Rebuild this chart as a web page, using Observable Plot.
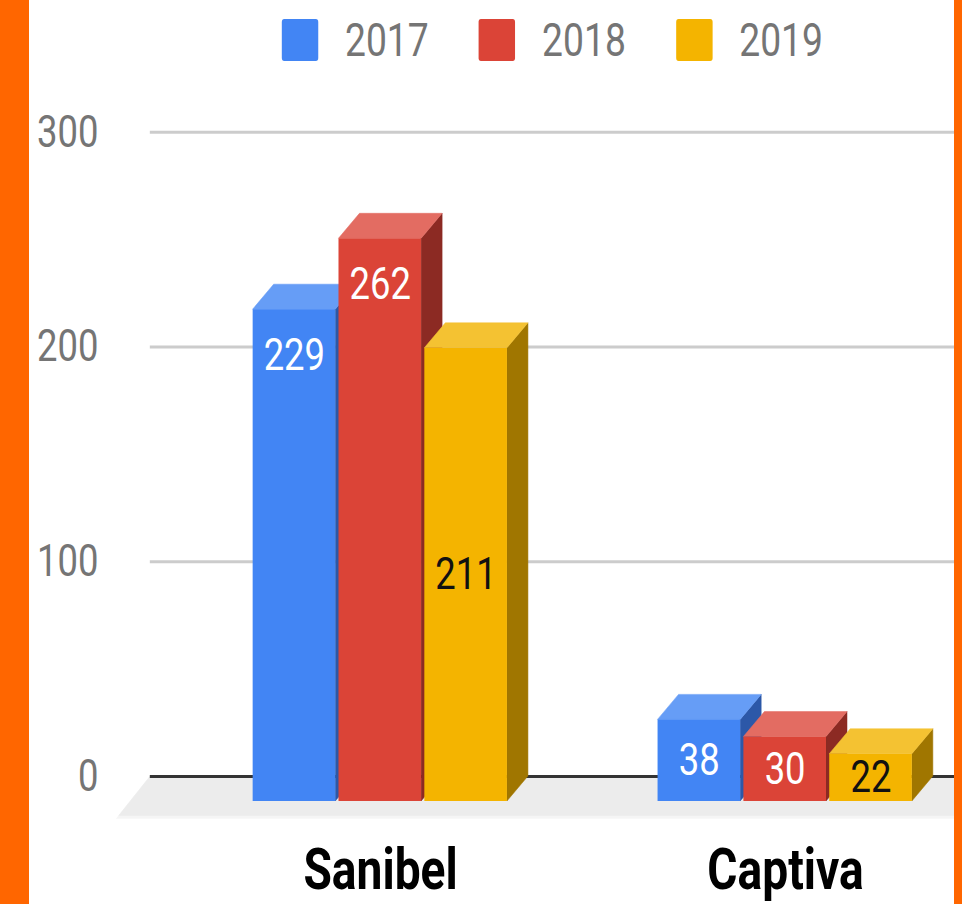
<!DOCTYPE html>
<html>
<head>
<meta charset="utf-8">
<script src="https://cdn.jsdelivr.net/npm/d3@7"></script>
<script src="https://cdn.jsdelivr.net/npm/@observablehq/plot@0.6"></script>
<style>
  html, body { margin: 0; padding: 0; background: #ffffff; width: 962px; height: 904px; overflow: hidden; }
  #wrap { position: absolute; left: 0; top: 0; width: 1188px; height: 904px; transform: scaleX(0.8098); transform-origin: 0 0; font-family: Roboto, sans-serif; }
  #legend { position: absolute; left: 348px; top: 19px; display: flex; align-items: center; height: 42px; }
  .item { display: flex; align-items: center; margin-right: 62px; }
  .sw { width: 45px; height: 42px; border-radius: 3px; }
  .lab { margin-left: 33px; font-size: 46px; line-height: 42px; color: #757575; }
  #chart { position: absolute; left: 0; top: 90px; width: 1188px; height: 814px; }
  #chart svg { position: absolute; left: 0; top: 0; }
  .border { position: absolute; top: 0; height: 904px; background: #ff6600; }
</style>
</head>
<body>
<div id="wrap">
  <div id="legend"></div>
  <div id="chart"></div>
</div>
<div class="border" style="left:0;width:29px"></div>
<div class="border" style="left:954px;width:8px"></div>
<script>
// ---- data ----
const islands = ["Sanibel", "Captiva"];
const years = ["2017", "2018", "2019"];
const sanibelValues = [229, 262, 211];
const captivaValues = [38, 30, 22];
const yTicks = [0, 100, 200, 300];

// ---- styling ----
const frontColors = ["#4285f4", "#db4437", "#f4b400"];
const topColors = ["#669df6", "#e36c62", "#f4c232"];
const sideColors = ["#2c58a8", "#8c2a23", "#a07600"];
const labelColors = ["#ffffff", "#ffffff", "#111111"];

const K = 962 / 1188;      // horizontal condensing of the whole picture
const DX = 21 / K;          // 3D depth, horizontal (internal units)
const DY = 25;              // 3D depth, vertical
const FLOOR = 39, FLOOR_SLANT = 31 / K;

const table = [];
islands.forEach((island, i) => {
  const vals = i === 0 ? sanibelValues : captivaValues;
  years.forEach((year, j) => table.push({island, year, value: vals[j], yi: j}));
});

// legend
const legend = document.getElementById("legend");
years.forEach((y, j) => {
  const item = document.createElement("div");
  item.className = "item";
  const sw = document.createElement("div");
  sw.className = "sw";
  sw.style.background = frontColors[j];
  const lab = document.createElement("div");
  lab.className = "lab";
  lab.textContent = y;
  item.append(sw, lab);
  legend.append(item);
});

const NS = "http://www.w3.org/2000/svg";
function poly(points, fill) {
  const p = document.createElementNS(NS, "path");
  p.setAttribute("d", "M" + points.map(q => q.join(",")).join("L") + "Z");
  p.setAttribute("fill", fill);
  p.setAttribute("stroke", fill);
  p.setAttribute("stroke-width", "0.6");
  return p;
}

function floorRender(index, scales, values, dimensions, context, next) {
  const g = next(index, scales, values, dimensions, context);
  const line = g.querySelector("line");
  if (!line) return g;
  const x1 = +line.getAttribute("x1"), x2 = +line.getAttribute("x2") + 60, y = +line.getAttribute("y1");
  const light = poly([[x1, y], [x2, y], [x2, y + FLOOR + 3], [x1 - FLOOR_SLANT - 3, y + FLOOR + 3]], "#f5f5f5");
  const dark = poly([[x1, y], [x2, y], [x2, y + FLOOR], [x1 - FLOOR_SLANT, y + FLOOR]], "#ececec");
  line.replaceWith(light);
  g.append(dark);
  return g;
}

function bar3d(index, scales, values, dimensions, context, next) {
  const g = next(index, scales, values, dimensions, context);
  Array.from(g.querySelectorAll("rect")).forEach(r => {
    const x = +r.getAttribute("x"), y = +r.getAttribute("y");
    const w = +r.getAttribute("width"), h = +r.getAttribute("height");
    const j = Math.max(0, frontColors.indexOf(r.getAttribute("fill")));
    const gg = document.createElementNS(NS, "g");
    const side = poly([[x + w, y], [x + w + DX, y - DY], [x + w + DX, y + h - DY], [x + w, y + h]], sideColors[j]);
    const top = poly([[x, y], [x + DX, y - DY], [x + w + DX, y - DY], [x + w, y]], topColors[j]);
    r.replaceWith(gg);
    gg.append(side, top, r);
  });
  return g;
}

const common = {
  width: 1188,
  height: 814,
  marginLeft: 185,
  marginRight: 0,
  marginTop: 41.7,
  marginBottom: 128,
  style: {fontFamily: "Roboto, sans-serif", background: "transparent", overflow: "visible"},
  y: {domain: [0, 300], axis: null}
};

// background layer: floor, grid, baseline, y tick labels
const back = Plot.plot({
  ...common,
  marks: [
    Plot.ruleY([0], {stroke: "#ececec", strokeWidth: 1, render: floorRender}),
    Plot.ruleY(yTicks.filter(d => d > 0), {stroke: "#cccccc", strokeWidth: 3}),
    Plot.ruleY([0], {stroke: "#333333", strokeWidth: 3}),
    Plot.text(yTicks, {y: d => d, text: d => String(d), frameAnchor: "left", textAnchor: "end", dx: -64, fontSize: 45, fill: "#757575"})
  ]
});

// foreground layer: grouped 3D bars, value labels, category labels
const front = Plot.plot({
  ...common,
  fx: {domain: islands, paddingInner: 0.3655, paddingOuter: 0.1854, align: 0.68, axis: null, label: null},
  x: {domain: years, paddingInner: 0.035, paddingOuter: 0, axis: null},
  color: {type: "identity"},
  marks: [
    Plot.barY(table, {fx: "island", x: "year", y: "value", fill: d => frontColors[d.yi], dy: DY, render: bar3d}),
    Plot.text(table.filter(d => d.value > 220), {fx: "island", x: "year", y: "value", text: d => String(d.value), dy: DY + 46, fontSize: 45, fill: d => labelColors[d.yi]}),
    Plot.text(table.filter(d => d.value <= 220), {fx: "island", x: "year", y: d => d.value / 2, text: d => String(d.value), dy: DY, fontSize: 45, fill: d => labelColors[d.yi]}),
    Plot.text(islands, {fx: d => d, text: d => d, frameAnchor: "bottom", lineAnchor: "bottom", dy: 112, fontSize: 57, fontWeight: "bold", fill: "#000000"})
  ]
});

const chartDiv = document.getElementById("chart");
chartDiv.append(back, front);
</script>
</body>
</html>
